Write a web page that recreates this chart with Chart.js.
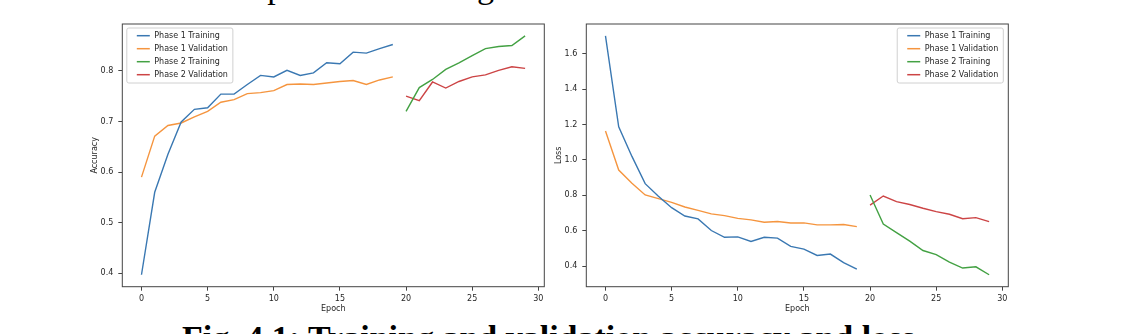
<!DOCTYPE html>
<html>
<head>
<meta charset="utf-8">
<script src="https://cdn.jsdelivr.net/npm/chart.js@4.4.1/dist/chart.umd.min.js"></script>
<style>
  html, body { margin: 0; padding: 0; background: #fff; }
  body { width: 1125px; height: 334px; position: relative; overflow: hidden; }
  .panel { position: absolute; top: 14px; width: 500px; height: 300px; }
  #accPanel { left: 60px; }
  #lossPanel { left: 524px; }
  .serif { position: absolute; font-family: "Liberation Serif", "Times New Roman", serif; font-size: 34px; line-height: 34px; white-space: nowrap; color: #000; }
  #prevLine { left: 36px; top: -30.5px; }
  #caption { left: 182px; top: 320.5px; font-weight: bold; }
</style>
</head>
<body>
<div id="prevLine" class="serif">Metrics for each phase in training</div>
<canvas id="accPanel" class="panel" width="500" height="300"></canvas>
<canvas id="lossPanel" class="panel" width="500" height="300"></canvas>
<div id="caption" class="serif">Fig. 4.1: Training and validation accuracy and loss</div>

<script>
// epochs of each phase
const phase1Epochs = [0, 1, 2, 3, 4, 5, 6, 7, 8, 9, 10, 11, 12, 13, 14, 15, 16, 17, 18, 19];
const phase2Epochs = [20, 21, 22, 23, 24, 25, 26, 27, 28, 29];

// accuracy
const p1TrainAcc = [0.397, 0.560, 0.635, 0.699, 0.724, 0.727, 0.754, 0.754, 0.773, 0.791,
                    0.788, 0.801, 0.791, 0.796, 0.816, 0.814, 0.837, 0.835, 0.844, 0.852];
const p1ValAcc   = [0.590, 0.671, 0.692, 0.697, 0.709, 0.720, 0.738, 0.743, 0.755, 0.757,
                    0.761, 0.773, 0.774, 0.773, 0.776, 0.779, 0.781, 0.773, 0.782, 0.788];
const p2TrainAcc = [0.720, 0.767, 0.783, 0.803, 0.816, 0.830, 0.844, 0.848, 0.850, 0.869];
const p2ValAcc   = [0.750, 0.741, 0.778, 0.766, 0.779, 0.788, 0.792, 0.801, 0.808, 0.805];

// loss
const p1TrainLoss = [1.701, 1.187, 1.020, 0.866, 0.795, 0.730, 0.683, 0.667, 0.601, 0.563,
                     0.565, 0.539, 0.563, 0.558, 0.511, 0.496, 0.460, 0.468, 0.420, 0.383];
const p1ValLoss   = [1.164, 0.943, 0.868, 0.802, 0.781, 0.760, 0.734, 0.715, 0.695, 0.685,
                     0.670, 0.661, 0.648, 0.652, 0.644, 0.644, 0.633, 0.633, 0.635, 0.623];
const p2TrainLoss = [0.802, 0.638, 0.589, 0.541, 0.488, 0.465, 0.422, 0.389, 0.396, 0.351];
const p2ValLoss   = [0.745, 0.796, 0.764, 0.748, 0.727, 0.708, 0.693, 0.668, 0.674, 0.651];

const seriesLabels = ['Phase 1 Training', 'Phase 1 Validation', 'Phase 2 Training', 'Phase 2 Validation'];
const epochTicks = [0, 5, 10, 15, 20, 25, 30];
const accTicks = [0.4, 0.5, 0.6, 0.7, 0.8];
const lossTicks = [0.4, 0.6, 0.8, 1.0, 1.2, 1.4, 1.6];

const colors = ['#3a78b2', '#f5953f', '#43a143', '#cc4445'];
const ink = '#262626';
const spine = '#444444';

Chart.defaults.font.family = '"DejaVu Sans", sans-serif';
Chart.defaults.font.size = 8;
Chart.defaults.color = ink;

function points(xs, ys) {
  return xs.map((x, i) => ({ x: x, y: ys[i] }));
}

// matplotlib-like 5% margins
function padded(values) {
  const lo = Math.min(...values), hi = Math.max(...values);
  const m = (hi - lo) * 0.05;
  return [lo - m, hi + m];
}

// axes frame (all four spines)
const frame = {
  id: 'frame',
  afterDatasetsDraw(chart) {
    const { ctx, chartArea: a } = chart;
    ctx.save();
    ctx.strokeStyle = spine;
    ctx.lineWidth = 1;
    ctx.strokeRect(a.left, a.top, a.right - a.left, a.bottom - a.top);
    ctx.restore();
  }
};

// legend drawn inside the axes, like matplotlib
const insideLegend = {
  id: 'insideLegend',
  afterDraw(chart, args, opts) {
    const { ctx, chartArea } = chart;
    const sets = chart.data.datasets;
    ctx.save();
    ctx.font = '8px "DejaVu Sans"';
    const textW = Math.max(...sets.map(d => ctx.measureText(d.label).width));
    const w = 27.5 + textW + 5;
    const h = 55;
    const x = opts.side === 'right' ? chartArea.right - 5 - w : chartArea.left + 4.5;
    const y = chartArea.top + 4;
    ctx.beginPath();
    ctx.roundRect(x, y, w, h, 2);
    ctx.fillStyle = 'rgba(255,255,255,0.8)';
    ctx.fill();
    ctx.strokeStyle = '#d0d0d0';
    ctx.lineWidth = 1;
    ctx.stroke();
    sets.forEach((d, i) => {
      const cy = y + 7.7 + 13 * i;
      ctx.beginPath();
      ctx.moveTo(x + 10, cy);
      ctx.lineTo(x + 23, cy);
      ctx.strokeStyle = d.borderColor;
      ctx.lineWidth = 1.5;
      ctx.stroke();
      ctx.fillStyle = ink;
      ctx.textBaseline = 'middle';
      ctx.textAlign = 'left';
      ctx.fillText(d.label, x + 27.5, cy);
    });
    ctx.restore();
  }
};

function makeChart(id, ys, yTicks, yTitle, legendSide) {
  const [p1t, p1v, p2t, p2v] = ys;
  const yRange = padded([].concat(p1t, p1v, p2t, p2v));
  const xRange = padded([].concat(phase1Epochs, phase2Epochs));
  const data = [
    points(phase1Epochs, p1t),
    points(phase1Epochs, p1v),
    points(phase2Epochs, p2t),
    points(phase2Epochs, p2v)
  ];
  return new Chart(document.getElementById(id), {
    type: 'line',
    data: {
      datasets: data.map((d, i) => ({
        label: seriesLabels[i],
        data: d,
        borderColor: colors[i],
        backgroundColor: colors[i],
        borderWidth: 1.4,
        pointRadius: 0,
        tension: 0,
        fill: false
      }))
    },
    options: {
      responsive: false,
      animation: false,
      layout: { padding: { top: 10, right: 15.7, left: 0, bottom: 0 } },
      plugins: {
        legend: { display: false },
        tooltip: { enabled: false },
        insideLegend: { side: legendSide }
      },
      scales: {
        x: {
          type: 'linear',
          min: xRange[0],
          max: xRange[1],
          afterBuildTicks: s => { s.ticks = epochTicks.map(v => ({ value: v })); },
          afterFit: s => { s.height = 27.3; },
          ticks: { padding: 3, callback: v => String(v) },
          grid: { drawOnChartArea: false, drawTicks: true, tickLength: 4, color: spine },
          border: { display: false },
          title: { display: true, text: 'Epoch', padding: { top: 0, bottom: 0 } }
        },
        y: {
          type: 'linear',
          min: yRange[0],
          max: yRange[1],
          afterBuildTicks: s => { s.ticks = yTicks.map(v => ({ value: v })); },
          afterFit: s => { s.width = 62.3; },
          ticks: { padding: 5, callback: v => v.toFixed(1) },
          grid: { drawOnChartArea: false, drawTicks: true, tickLength: 4, color: spine },
          border: { display: false },
          title: { display: true, text: yTitle, padding: { top: 30, bottom: 0 } }
        }
      }
    },
    plugins: [frame, insideLegend]
  });
}

makeChart('accPanel', [p1TrainAcc, p1ValAcc, p2TrainAcc, p2ValAcc], accTicks, 'Accuracy', 'left');
makeChart('lossPanel', [p1TrainLoss, p1ValLoss, p2TrainLoss, p2ValLoss], lossTicks, 'Loss', 'right');
</script>
</body>
</html>
